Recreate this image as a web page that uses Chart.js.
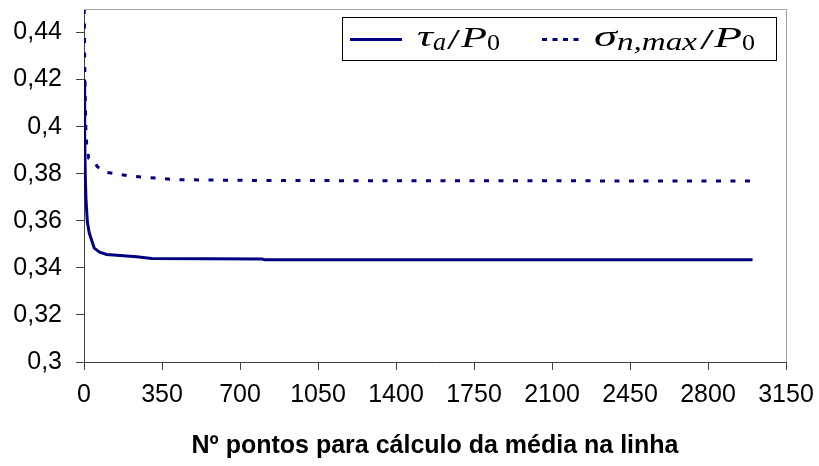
<!DOCTYPE html>
<html lang="pt">
<head>
    <meta charset="UTF-8">
    <title>Convergência da média na linha</title>
    <style>
        html, body {
            margin: 0;
            padding: 0;
            background: #fff;
        }
        #chart-container {
            width: 819px;
            height: 466px;
        }
    </style>
</head>
<body>
    <div id="chart-container">
        <canvas id="mediaChart"></canvas>
    </div>

    <script src="https://cdn.jsdelivr.net/npm/chart.js"></script>
    <script>
        // tau_a / P0 against the number of points used for the line average
        var tauPontos = [1, 3, 6, 9, 15, 24, 46, 70, 102, 236, 304, 800, 810, 3000];
        var tauValores = [0.42, 0.395, 0.378, 0.369, 0.3595, 0.3547, 0.3484, 0.3467, 0.3457, 0.3447, 0.344, 0.3438, 0.3434, 0.3434];

        // sigma_n,max / P0
        var sigmaPontos = [1, 4, 8, 12, 21, 40, 60, 94, 139, 206, 274, 408, 800, 3000];
        var sigmaValores = [0.45, 0.42, 0.40, 0.3925, 0.3866, 0.386, 0.383, 0.3807, 0.380, 0.379, 0.3785, 0.3775, 0.3771, 0.3769];

        var xTicks = [0, 350, 700, 1050, 1400, 1750, 2100, 2450, 2800, 3150];
        var yTicks = [0.3, 0.32, 0.34, 0.36, 0.38, 0.4, 0.42, 0.44];

        var azul = '#000080';
        var tracejado = [5, 9.5];

        function pares(xs, ys) {
            return xs.map(function (x, i) { return { x: x, y: ys[i] }; });
        }

        // no extra room for overhanging tick labels, the plot area is fixed
        function semSobra(scale) {
            scale.paddingTop = 0;
            scale.paddingBottom = 0;
            scale.paddingLeft = 0;
            scale.paddingRight = 0;
        }

        // gray frame on the top and right of the plot area
        var moldura = {
            id: 'moldura',
            afterDatasetsDraw: function (chart) {
                var a = chart.chartArea;
                var ctx = chart.ctx;
                ctx.save();
                ctx.strokeStyle = '#a0a0a0';
                ctx.lineWidth = 1;
                ctx.beginPath();
                ctx.moveTo(a.left, a.top + 0.5);
                ctx.lineTo(a.right + 0.5, a.top + 0.5);
                ctx.lineTo(a.right + 0.5, a.bottom);
                ctx.stroke();
                ctx.restore();
            }
        };

        // one piece of a math label, stretched to fill [x0, x1]
        function pedaco(ctx, texto, fonte, x0, x1, base) {
            ctx.save();
            ctx.font = fonte;
            var w = ctx.measureText(texto).width;
            ctx.translate(x0, base);
            ctx.scale((x1 - x0) / w, 1);
            ctx.fillText(texto, 0, 0);
            ctx.restore();
        }

        // legend with math-style labels (italic symbols and subscripts)
        var legendaMat = {
            id: 'legendaMat',
            afterDraw: function (chart) {
                var ctx = chart.ctx;
                var sets = chart.data.datasets;
                var grande = 'italic 30px "Liberation Serif"';
                var reto = '30px "Liberation Serif"';
                var sub = 'italic 25px "Liberation Serif"';
                var subReto = '24px "Liberation Serif"';
                ctx.save();
                ctx.fillStyle = '#fff';
                ctx.fillRect(342, 17, 435, 44);
                ctx.strokeStyle = '#000';
                ctx.lineWidth = 1;
                ctx.strokeRect(342.5, 17.5, 434, 43);

                ctx.strokeStyle = sets[0].borderColor;
                ctx.lineWidth = sets[0].borderWidth;
                ctx.beginPath();
                ctx.moveTo(350, 39.5);
                ctx.lineTo(402, 39.5);
                ctx.stroke();

                ctx.strokeStyle = sets[1].borderColor;
                ctx.lineWidth = sets[1].borderWidth;
                ctx.setLineDash([5, 5.5]);
                ctx.beginPath();
                ctx.moveTo(542, 39.5);
                ctx.lineTo(580, 39.5);
                ctx.stroke();
                ctx.setLineDash([]);

                ctx.fillStyle = '#000';
                ctx.textBaseline = 'alphabetic';
                pedaco(ctx, 'τ', grande, 417, 433, 46);
                pedaco(ctx, 'a', sub, 433, 446, 50);
                pedaco(ctx, '/', reto, 447, 460, 49);
                pedaco(ctx, 'P', grande, 461, 487, 47);
                pedaco(ctx, '0', subReto, 487, 500, 50);

                pedaco(ctx, 'σ', grande, 594, 617, 46);
                pedaco(ctx, 'n,max', sub, 617, 697, 50);
                pedaco(ctx, '/', reto, 700, 714, 49);
                pedaco(ctx, 'P', grande, 714, 742, 47);
                pedaco(ctx, '0', subReto, 742, 755, 50);
                ctx.restore();
            }
        };

        var fonteEixo = '"Liberation Sans", Arial, sans-serif';

        var ctx = document.getElementById('mediaChart').getContext('2d');
        var mediaChart = new Chart(ctx, {
            type: 'line',
            data: {
                datasets: [
                    {
                        label: 'τa/P0',
                        data: pares(tauPontos, tauValores),
                        borderColor: azul,
                        borderWidth: 3,
                        pointRadius: 0,
                        tension: 0,
                        fill: false
                    },
                    {
                        label: 'σn,max/P0',
                        data: pares(sigmaPontos, sigmaValores),
                        borderColor: azul,
                        borderWidth: 3,
                        borderDash: tracejado,
                        pointRadius: 0,
                        tension: 0,
                        fill: false
                    }
                ]
            },
            options: {
                responsive: true,
                maintainAspectRatio: false,
                animation: false,
                layout: {
                    padding: { top: 9, right: 33, left: 0, bottom: 0 }
                },
                plugins: {
                    legend: { display: false },
                    tooltip: { enabled: false }
                },
                scales: {
                    x: {
                        type: 'linear',
                        min: 0,
                        max: 3150,
                        afterBuildTicks: function (scale) {
                            scale.ticks = xTicks.map(function (v) { return { value: v }; });
                        },
                        afterFit: function (scale) {
                            scale.height = 104;
                            semSobra(scale);
                        },
                        grid: {
                            drawOnChartArea: false,
                            drawTicks: true,
                            tickLength: 8,
                            color: '#404040'
                        },
                        border: { color: '#404040', width: 1 },
                        ticks: {
                            padding: 10,
                            color: '#000',
                            maxRotation: 0,
                            autoSkip: false,
                            font: { family: fonteEixo, size: 25 },
                            callback: function (v) { return String(v); }
                        },
                        title: {
                            display: true,
                            text: 'Nº pontos para cálculo da média na linha',
                            color: '#000',
                            padding: { top: 0, bottom: 5 },
                            font: { family: fonteEixo, size: 25, weight: 'bold' }
                        }
                    },
                    y: {
                        min: 0.3,
                        max: 0.45,
                        afterBuildTicks: function (scale) {
                            scale.ticks = yTicks.map(function (v) { return { value: v }; });
                        },
                        afterFit: function (scale) {
                            scale.width = 84;
                            semSobra(scale);
                        },
                        grid: {
                            drawOnChartArea: false,
                            drawTicks: true,
                            tickLength: 8,
                            color: '#404040'
                        },
                        border: { color: '#404040', width: 1 },
                        ticks: {
                            padding: 14,
                            color: '#000',
                            autoSkip: false,
                            font: { family: fonteEixo, size: 25 },
                            callback: function (v) {
                                return String(parseFloat(v.toFixed(2))).replace('.', ',');
                            }
                        }
                    }
                }
            },
            plugins: [moldura, legendaMat]
        });
    </script>
</body>
</html>
